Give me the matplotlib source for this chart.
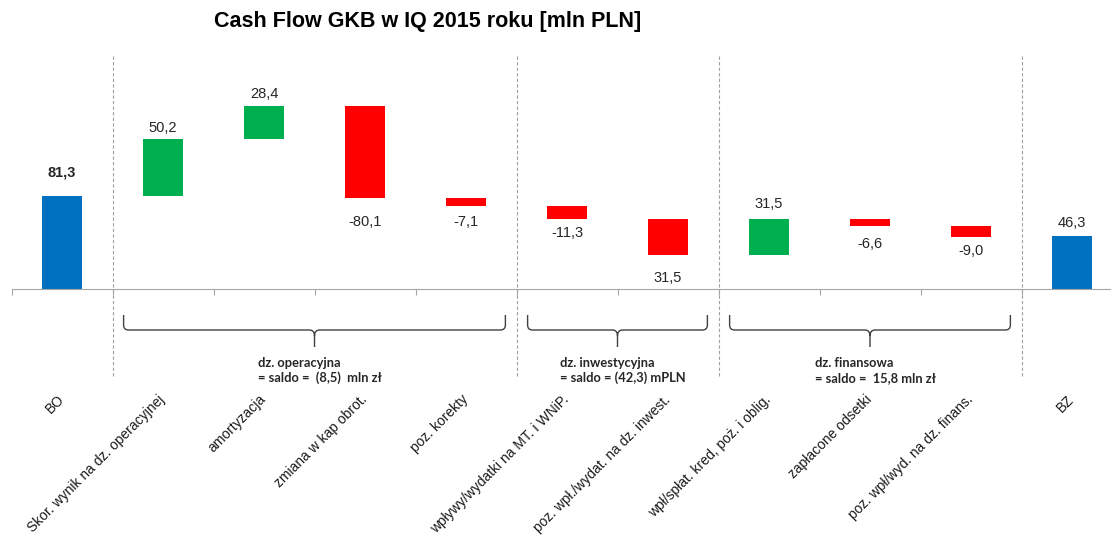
import numpy as np
import matplotlib.pyplot as plt
import matplotlib.transforms as mtransforms
from matplotlib.path import Path
from matplotlib.patches import PathPatch

plt.rcParams['font.family'] = ['Liberation Sans', 'DejaVu Sans']

categories = ['BO', 'Skor. wynik na dz. operacyjnej', 'amortyzacja',
              'zmiana w kap obrot.', 'poz. korekty',
              'wpływy/wydatki na MT. i WNiP.', 'poz. wpł./wydat. na dz. inwest.',
              'wpł/spłat. kred, poż. i oblig.', 'zapłacone odsetki',
              'poz. wpł/wyd. na dz. finans.', 'BZ']
start_value = 81.3
steps = [50.2, 28.4, -80.1, -7.1, -11.3, -31.5, 31.5, -6.6, -9.0]
end_value = 46.3
value_labels = ['81,3', '50,2', '28,4', '-80,1', '-7,1', '-11,3', '31,5',
                '31,5', '-6,6', '-9,0', '46,3']

# (text, first category, last category)
groups = [('dz. operacyjna\n= saldo =  (8,5)  mln zł', 1, 4),
          ('dz. inwestycyjna\n= saldo = (42,3) mPLN', 5, 6),
          ('dz. finansowa\n= saldo =  15,8 mln zł', 7, 9)]

# distance of value label from bar edge, pixels
label_gap = [23, 11, 12, 24, 16, 14, 23, 15, 18, 14, 13]

blue = '#0070C0'
green = '#00B050'
red = '#FF0000'

W, H = 1111, 537
axis_y = 289
top_y = 56
px_per_unit = 1.144

fig = plt.figure(figsize=(W / 100, H / 100), dpi=100)
ax = fig.add_axes([11.5 / W, (H - axis_y) / H, 1.0, (axis_y - top_y) / H])

steps = np.array(steps)
levels = start_value + np.cumsum(steps)
prev = np.concatenate([[start_value], levels[:-1]])
x = np.arange(len(categories))

ax.bar(x[0], start_value, width=0.4, color=blue)
ax.bar(x[-1], end_value, width=0.4, color=blue)
ax.bar(x[1:-1], np.abs(steps), bottom=np.minimum(prev, levels), width=0.4,
       color=[green if s > 0 else red for s in steps])

# value labels
tops = np.concatenate([[start_value], levels, [end_value]])
signs = np.concatenate([[1], np.sign(steps), [1]])
for i in range(len(categories)):
    off = label_gap[i] * signs[i]
    ax.annotate(value_labels[i], (x[i], tops[i]), xytext=(0, off),
                textcoords='offset pixels', ha='center', va='center',
                fontsize=10.5, color='#262626',
                fontweight='bold' if i == 0 else 'normal')

ax.set_xlim(-0.5, 10.5)
ax.set_ylim(0, (axis_y - top_y) / px_per_unit)

for s in ['top', 'right', 'left']:
    ax.spines[s].set_visible(False)
ax.spines['bottom'].set_color('#A6A6A6')
ax.set_yticks([])
ax.set_xticks(np.arange(-0.5, 10.5, 1.0))
ax.set_xticklabels([])
ax.tick_params(axis='x', which='major', length=4, color='#A6A6A6')
ax.set_xticks(x, minor=True)
ax.set_xticklabels(categories, minor=True)
ax.tick_params(axis='x', which='minor', length=0, pad=78, labelsize=10,
               labelcolor='#1a1a1a')
for lab in ax.get_xticklabels(minor=True):
    lab.set_rotation(45)
    lab.set_ha('right')
    lab.set_va('center')
    lab.set_rotation_mode('anchor')


def fy(py):
    return (axis_y - py) / (axis_y - top_y)


# dashed separators between sections
for g in [0.5, 4.5, 6.5, 9.5]:
    ax.axvline(g, ymin=fy(376), ymax=1, color='#A0A0A0', lw=0.8,
               ls=(0, (3, 2)), clip_on=False, zorder=0)

trans = mtransforms.blended_transform_factory(ax.transData, ax.transAxes)


def brace(x0, x1, xc):
    r = 0.05
    yt, yl, ytip = fy(315), fy(330), fy(347)
    verts = [(x0, yt), (x0, fy(325)), (x0, yl), (x0 + r, yl),
             (xc - r, yl), (xc, yl), (xc, fy(336)), (xc, ytip),
             (xc, fy(336)), (xc, yl), (xc + r, yl),
             (x1 - r, yl), (x1, yl), (x1, fy(325)), (x1, yt)]
    codes = [Path.MOVETO, Path.LINETO, Path.CURVE3, Path.CURVE3,
             Path.LINETO, Path.CURVE3, Path.CURVE3, Path.LINETO,
             Path.MOVETO, Path.CURVE3, Path.CURVE3,
             Path.LINETO, Path.CURVE3, Path.CURVE3, Path.LINETO]
    ax.add_patch(PathPatch(Path(verts, codes), transform=trans, fill=False,
                           ec='#404040', lw=1.0, clip_on=False))


for text, a, b in groups:
    x0, x1 = a - 0.5 + 0.11, b + 0.5 - 0.11
    xc = (a + b) / 2
    brace(x0, x1, xc)
    ax.text(xc + 0.05, fy(370.5), text, transform=trans, ha='center',
            va='center', multialignment='left', fontsize=9.3,
            fontfamily='Lato', fontweight='bold', color='#262626',
            linespacing=1.3)

fig.text(428 / W, 1 - 22 / H, 'Cash Flow GKB w IQ 2015 roku [mln PLN]',
         ha='center', va='center', fontsize=15.5, fontweight='bold')

fig.savefig('out.png', dpi=100)
